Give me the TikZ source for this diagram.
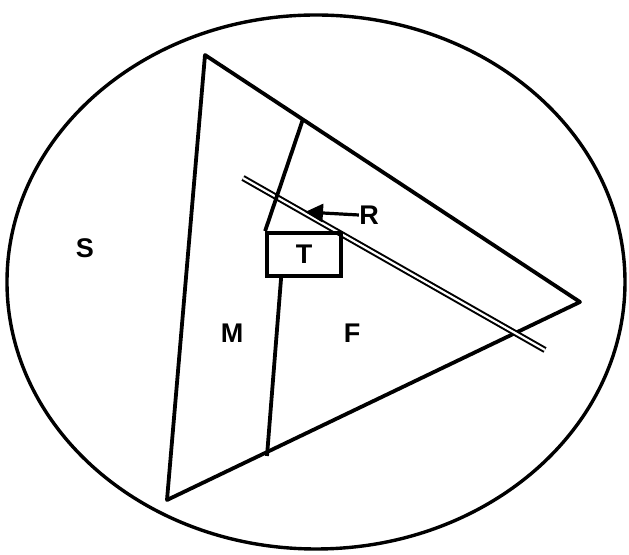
\documentclass[tikz,border=0pt]{standalone}
\usepackage{fontspec}
\setmainfont{Liberation Sans}
\usetikzlibrary{arrows.meta}

\begin{document}
\begin{tikzpicture}[x=0.5pt,y=-0.5pt]
  \tikzset{thickline/.style={draw=black,line width=1.9pt,line join=round}}
  \tikzset{trackline/.style={draw=black,line width=1.0pt,double=white,double distance=1.1pt}}
  \tikzset{arealabel/.style={font=\fontsize{13.5}{15}\selectfont\bfseries,inner sep=0pt}}

  \useasboundingbox (0,0) rectangle (629,555);

  % outer ellipse
  \node[coordinate] (centre) at (316,282) {};
  \draw[line width=1.7pt] (centre) ellipse [x radius=309, y radius=267];

  % triangle
  \coordinate (top)   at (205,55);
  \coordinate (right) at (580,302);
  \coordinate (low)   at (167,500);
  \draw[thickline] (top) -- (right) -- (low) -- cycle;

  % track
  \coordinate (track1) at (243,178);
  \coordinate (track2) at (545,350);
  \draw[trackline] (track1) -- (track2);

  % box T and the dividing line
  \node[draw=black,line width=1.9pt,minimum width=37pt,minimum height=21.5pt,inner sep=0pt,
        arealabel] (tbox) at (304,254.5) {T};
  \coordinate (upper) at (303,119);
  \coordinate (lower) at (267,456);
  \coordinate (tfoot) at ([xshift=8pt]tbox.south west);
  \draw[thickline] (upper) -- (tbox.north west);
  \draw[thickline] (tfoot) -- (lower);

  % arrow R
  \node[arealabel] (rlab) at (369,215) {R};
  \coordinate (rtip) at (305,212);
  \draw[line width=1.6pt,-{Triangle[length=9pt,width=9pt]}] (rlab.west) -- (rtip);

  % area labels
  \node[arealabel] (slab) at (85,248) {S};
  \node[arealabel] (mlab) at (232,333) {M};
  \node[arealabel] (flab) at (352,333) {F};
\end{tikzpicture}
\end{document}
